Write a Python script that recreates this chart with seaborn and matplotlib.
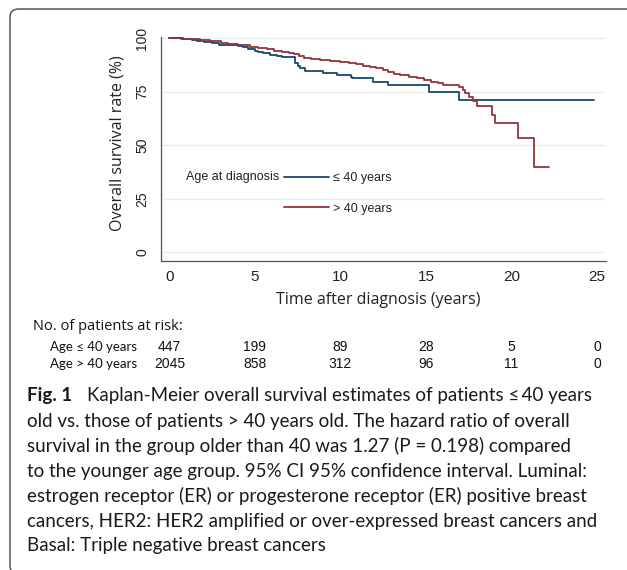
import matplotlib.pyplot as plt
import matplotlib.transforms as mtransforms
from matplotlib.patches import FancyBboxPatch
import seaborn as sns
import pandas as pd

# Kaplan-Meier step points (years, survival %)
young_time = [0, 0.8, 1.3, 1.6, 2.0, 2.5, 2.9, 3.5, 4.0, 4.3, 4.6, 5.0, 5.2, 5.5,
              5.9, 6.3, 6.6, 7.35, 7.5, 7.65, 7.94, 9.0, 9.8, 10.6, 10.7, 11.9,
              12.8, 15.15, 16.9, 24.8]
young_surv = [100, 99.6, 99.2, 98.7, 98.3, 97.7, 96.9, 96.6, 96.2, 95.8, 95.0, 94.2,
              93.5, 92.9, 92.2, 91.7, 91.2, 88.3, 87.2, 86.0, 84.9, 83.9, 82.8, 81.9,
              81.3, 79.7, 78.2, 75.0, 71.2, 71.2]

old_time = [0, 0.7, 1.2, 1.8, 2.4, 3.0, 3.4, 4.0, 4.7, 5.2, 5.7, 6.1, 6.6, 7.0, 7.3,
            7.6, 7.85, 8.3, 8.8, 9.4, 10.0, 10.5, 10.9, 11.3, 11.7, 12.1, 12.5, 12.8,
            13.1, 13.5, 14.0, 14.5, 14.9, 15.3, 15.7, 16.0, 16.9, 17.15, 17.3, 17.5,
            17.75, 18.0, 18.85, 19.05, 20.35, 21.3, 22.2]
old_surv = [100, 99.7, 99.4, 99.0, 98.5, 97.9, 97.4, 96.9, 96.1, 95.5, 94.8, 94.2,
            93.6, 93.0, 92.5, 91.6, 90.8, 90.2, 89.9, 89.4, 89.1, 88.5, 87.9, 87.2,
            86.5, 85.9, 85.2, 84.4, 83.3, 82.6, 81.9, 81.2, 80.3, 79.6, 78.9, 78.0,
            77.2, 75.9, 74.3, 72.7, 70.9, 68.1, 64.2, 60.6, 53.3, 40.0, 40.0]

groups = ["≤ 40 years", "> 40 years"]
colors = ["#1a476f", "#90353b"]

risk_times = [0, 5, 10, 15, 20, 25]
risk_young = [447, 199, 89, 28, 5, 0]
risk_old = [2045, 858, 312, 96, 11, 0]
risk_labels = ["Age ≤ 40 years", "Age > 40 years"]

yticks = [0, 25, 50, 75, 100]
xticks = [0, 5, 10, 15, 20, 25]

caption_lines = [
    "old vs. those of patients > 40 years old. The hazard ratio of overall",
    "survival in the group older than 40 was 1.27 (P = 0.198) compared",
    "to the younger age group. 95% CI 95% confidence interval. Luminal:",
    "estrogen receptor (ER) or progesterone receptor (ER) positive breast",
    "cancers, HER2: HER2 amplified or over-expressed breast cancers and",
    "Basal: Triple negative breast cancers",
]

df = pd.concat([
    pd.DataFrame({"time": young_time, "surv": young_surv, "group": groups[0]}),
    pd.DataFrame({"time": old_time, "surv": old_surv, "group": groups[1]}),
])

sns.set_theme(style="white")
plt.rcParams["font.family"] = ["Liberation Sans", "DejaVu Sans"]

W, H = 627, 570
fig = plt.figure(figsize=(W / 100, H / 100), dpi=100)


def fx(px):
    return px / W


def fy(py):
    return 1 - py / H


# rounded frame around the figure panel
frame = FancyBboxPatch((fx(10), fy(574)), fx(640) - fx(10), fy(9) - fy(574),
                       boxstyle="round,pad=0,rounding_size=0.014",
                       transform=fig.transFigure, fill=False,
                       edgecolor="#555555", linewidth=1.1)
fig.patches.append(frame)

ax = fig.add_axes([fx(161), fy(261), fx(605.7) - fx(161), fy(29) - fy(261)])
sns.lineplot(data=df, x="time", y="surv", hue="group", hue_order=groups,
             palette=colors, drawstyle="steps-post", linewidth=1.3,
             estimator=None, sort=False, legend=False, ax=ax)

ax.set_xlim(-0.49, 25.5)
ax.set_ylim(-4.07, 104.3)
ax.set_xticks(xticks)
ax.set_yticks(yticks)
ax.set_xticklabels([str(t) for t in xticks], fontsize=11)
ax.set_yticklabels([str(t) for t in yticks], fontsize=10, rotation=90, va="center")
ax.tick_params(axis="both", direction="out", length=3.5, width=0.8,
               color="#555555", labelcolor="#222222")
ax.tick_params(axis="x", pad=3)
ax.tick_params(axis="y", pad=5)
ax.set_xlabel("")
ax.set_ylabel("")
for s in ["top", "right"]:
    ax.spines[s].set_visible(False)
for s in ["left", "bottom"]:
    ax.spines[s].set_color("#555555")
    ax.spines[s].set_linewidth(0.9)
ax.spines["left"].set_bounds(-4.07, 100.6)
ax.yaxis.grid(True, color="#e8f0f1", linewidth=1.0)
ax.set_axisbelow(True)

fig.text(fx(118), fy(143), "Overall survival rate (%)", rotation=90,
         ha="center", va="center", fontsize=11.5, family="Open Sans", color="#222222")
fig.text(fx(378), fy(300), "Time after diagnosis (years)",
         ha="center", va="center", fontsize=11.5, family="Open Sans", color="#222222")

# legend
leg = ax.legend(handles=ax.lines[:2], labels=groups, loc="upper left",
                bbox_to_anchor=(fx(284), fy(172.5)), bbox_transform=fig.transFigure,
                frameon=False, fontsize=9, handlelength=3.6, handletextpad=0.35,
                labelspacing=1.45, borderpad=0, borderaxespad=0)
for t in leg.get_texts():
    t.set_color("#222222")
fig.text(fx(279), fy(177), "Age at diagnosis", ha="right", va="center",
         fontsize=9, color="#222222")

# number at risk table
fig.text(fx(33), fy(326), "No. of patients at risk:", ha="left", va="center",
         fontsize=10.5, family="Open Sans", color="#111111")
blend = mtransforms.blended_transform_factory(ax.transData, fig.transFigure)
for row_y, label, counts in [(347, risk_labels[0], risk_young), (364, risk_labels[1], risk_old)]:
    fig.text(fx(50), fy(row_y), label, ha="left", va="center", fontsize=9.5,
             family="Lato", color="#111111")
    for t, n in zip(risk_times, counts):
        ax.text(t, fy(row_y), str(n), transform=blend, ha="center", va="center",
                fontsize=10, color="#111111", clip_on=False)

# caption
cap_y = [396, 421, 446, 471, 496, 521, 546]
fig.text(fx(27), fy(cap_y[0]), "Fig. 1", ha="left", va="center", fontsize=13.5,
         family="Lato", weight="bold", color="#1a1a1a")
fig.text(fx(87), fy(cap_y[0]), "Kaplan-Meier overall survival estimates of patients \u2264\u200940 years",
         ha="left", va="center", fontsize=13.5, family=["Lato", "DejaVu Sans"],
         color="#1a1a1a")
for y, line in zip(cap_y[1:], caption_lines):
    fig.text(fx(27), fy(y), line, ha="left", va="center", fontsize=13.5,
             family="Lato", color="#1a1a1a")

fig.savefig("out.png", dpi=100)
